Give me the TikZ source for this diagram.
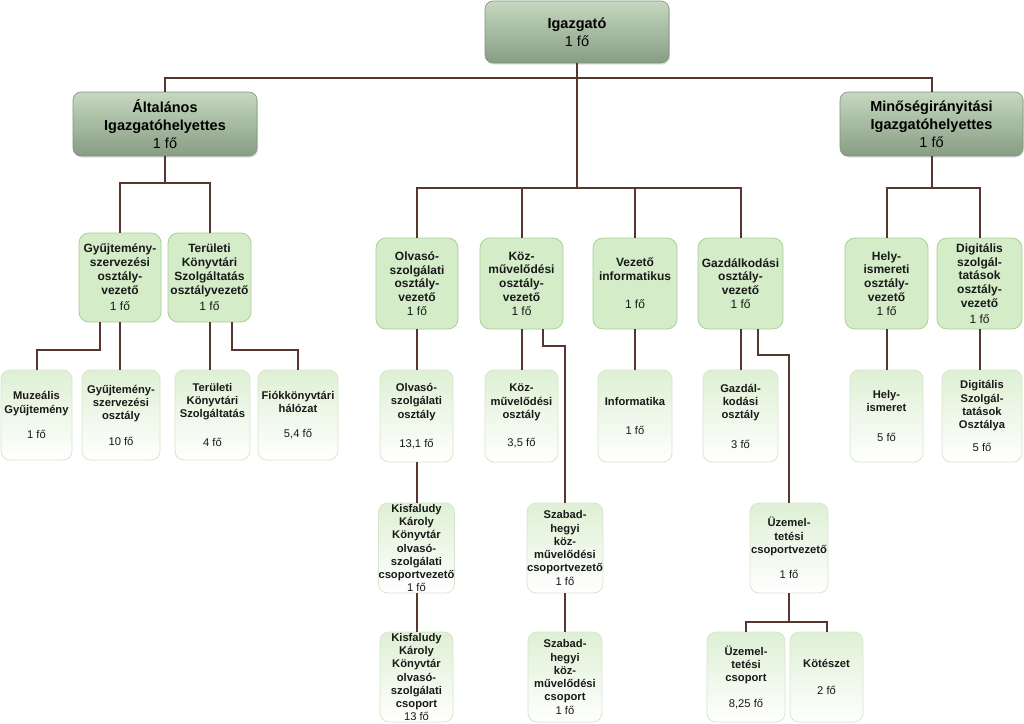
\documentclass[tikz,border=0pt]{standalone}
\usepackage{fontspec}
\setmainfont{Liberation Sans}
\usetikzlibrary{calc,shadows}
\definecolor{linec}{RGB}{88,54,48}
\definecolor{toptop}{RGB}{198,217,192}
\definecolor{topbot}{RGB}{134,156,131}
\definecolor{topdraw}{RGB}{128,146,125}
\definecolor{midfill}{RGB}{212,236,200}
\definecolor{middraw}{RGB}{168,206,150}
\definecolor{leaftop}{RGB}{222,240,212}
\definecolor{leafdraw}{RGB}{214,230,204}
\definecolor{txt}{RGB}{25,25,25}
\newcommand\hcnt[1]{{\mdseries #1}}
\tikzset{
  topbox/.style={rectangle, rounded corners=8pt, draw=topdraw, line width=0.6pt,
    top color=toptop, bottom color=topbot, inner sep=0pt, align=center,
    text=black, font=\fontsize{14.5}{18}\selectfont\bfseries,
    drop shadow={opacity=0.25, shadow xshift=1pt, shadow yshift=-1.5pt}},
  midbox/.style={rectangle, rounded corners=10pt, draw=middraw, line width=0.8pt,
    fill=midfill, inner sep=0pt, align=center, text=txt,
    font=\fontsize{12}{13.8}\selectfont\bfseries},
  leafbox/.style={rectangle, rounded corners=9pt, draw=leafdraw, line width=0.8pt,
    top color=leaftop, bottom color=white, inner sep=0pt, align=center, text=txt,
    font=\fontsize{11.2}{13.3}\selectfont\bfseries},
  conn/.style={draw=linec, line width=2pt}
}
\begin{document}
\begin{tikzpicture}[x=1pt,y=-1pt]
\useasboundingbox (0,0) rectangle (1024,723);
% level 0/1
\node[topbox, minimum width=184pt, minimum height=62pt] (igaz) at (577,32) {Igazgató\\\hcnt{1 fő}};
\node[topbox, minimum width=184pt, minimum height=64pt] (alt) at (165,124) {Általános\\Igazgatóhelyettes\\\hcnt{1 fő}};
\node[topbox, minimum width=183pt, minimum height=64pt] (min) at (931.5,124) {Minőségirányitási\\Igazgatóhelyettes\\\hcnt{1 fő}};
% level 2
\node[midbox, minimum width=82pt, minimum height=89pt] (gyv) at (120,277.5) {Gyűjtemény-\\szervezési\\osztály-\\vezető\\[3pt]\hcnt{1 fő}};
\node[midbox, minimum width=83pt, minimum height=89pt] (ter) at (209.5,277.5) {Területi\\Könyvtári\\Szolgáltatás\\osztályvezető\\[3pt]\hcnt{1 fő}};
\node[midbox, minimum width=82pt, minimum height=91pt] (olv) at (417,283.5) {Olvasó-\\szolgálati\\osztály-\\vezető\\\hcnt{1 fő}};
\node[midbox, minimum width=83pt, minimum height=91pt] (koz) at (521.5,283.5) {Köz-\\művelődési\\osztály-\\vezető\\\hcnt{1 fő}};
\node[midbox, minimum width=84pt, minimum height=91pt] (vez) at (635,283.5) {Vezető\\informatikus\\[14pt]\hcnt{1 fő}};
\node[midbox, minimum width=85pt, minimum height=91pt] (gaz) at (740.5,283.5) {Gazdálkodási\\osztály-\\vezető\\\hcnt{1 fő}};
\node[midbox, minimum width=83pt, minimum height=91pt] (hel) at (886.5,283.5) {Hely-\\ismereti\\osztály-\\vezető\\\hcnt{1 fő}};
\node[midbox, minimum width=85pt, minimum height=91pt] (dig) at (979.5,283.5) {Digitális\\szolgál-\\tatások\\osztály-\\vezető\\[2pt]\hcnt{1 fő}};
% level 3
\node[leafbox, minimum width=71pt, minimum height=90pt] (muz) at (36.5,415) {Muzeális\\Gyűjtemény\\[12pt]\hcnt{1 fő}};
\node[leafbox, minimum width=78pt, minimum height=90pt] (gyo) at (121,415) {Gyűjtemény-\\szervezési\\osztály\\[12pt]\hcnt{10 fő}};
\node[leafbox, minimum width=75pt, minimum height=90pt] (tko) at (212.5,415) {Területi\\Könyvtári\\Szolgáltatás\\[16pt]\hcnt{4 fő}};
\node[leafbox, minimum width=80pt, minimum height=90pt] (fio) at (298,415) {Fiókkönyvtári\\hálózat\\[12pt]\hcnt{5,4 fő}};
\node[leafbox, minimum width=73pt, minimum height=92pt] (olo) at (416.5,416) {Olvasó-\\szolgálati\\osztály\\[16pt]\hcnt{13,1 fő}};
\node[leafbox, minimum width=73pt, minimum height=92pt] (koo) at (521.5,416) {Köz-\\művelődési\\osztály\\[15pt]\hcnt{3,5 fő}};
\node[leafbox, minimum width=74pt, minimum height=92pt] (inf) at (635,416) {Informatika\\[15pt]\hcnt{1 fő}};
\node[leafbox, minimum width=75pt, minimum height=92pt] (gao) at (740.5,416) {Gazdál-\\kodási\\osztály\\[16pt]\hcnt{3 fő}};
\node[leafbox, minimum width=73pt, minimum height=92pt] (hei) at (886.5,416) {Hely-\\ismeret\\[17pt]\hcnt{5 fő}};
\node[leafbox, minimum width=80pt, minimum height=92pt] (dio) at (982,416) {Digitális\\Szolgál-\\tatások\\Osztálya\\[9pt]\hcnt{5 fő}};
% level 4/5
\node[leafbox, minimum width=73pt, minimum height=90pt] (kcv) at (416.5,548) {Kisfaludy\\Károly\\Könyvtár\\olvasó-\\szolgálati\\csoportvezető\\\hcnt{1 fő}};
\node[leafbox, minimum width=73pt, minimum height=90pt] (kcs) at (416.5,677) {Kisfaludy\\Károly\\Könyvtár\\olvasó-\\szolgálati\\csoport\\\hcnt{13 fő}};
\node[leafbox, minimum width=74pt, minimum height=90pt] (scv) at (565,548) {Szabad-\\hegyi\\köz-\\művelődési\\csoportvezető\\\hcnt{1 fő}};
\node[leafbox, minimum width=74pt, minimum height=90pt] (scs) at (565,677) {Szabad-\\hegyi\\köz-\\művelődési\\csoport\\\hcnt{1 fő}};
\node[leafbox, minimum width=78pt, minimum height=90pt] (ucv) at (789,548) {Üzemel-\\tetési\\csoportvezető\\[12pt]\hcnt{1 fő}};
\node[leafbox, minimum width=78pt, minimum height=90pt] (ucs) at (746,677) {Üzemel-\\tetési\\csoport\\[12pt]\hcnt{8,25 fő}};
\node[leafbox, minimum width=73pt, minimum height=90pt] (kot) at (826.5,677) {Kötészet\\[14pt]\hcnt{2 fő}};
% connectors
\draw[conn] (alt.north) -- ++(0,-14) -| (min.north);
\foreach \c in {olv,koz,vez,gaz} \draw[conn] (igaz.south) -- ++(0,125) -| (\c.north);
\foreach \c in {gyv,ter} \draw[conn] (alt.south) -- ++(0,27) -| (\c.north);
\foreach \c in {hel,dig} \draw[conn] (min.south) -- ++(0,32) -| (\c.north);
\draw[conn] ($(gyv.south)+(-20,0)$) -- ++(0,28) -| (muz.north);
\draw[conn] (gyv.south) -- (gyv.south |- gyo.north);
\draw[conn] (ter.south) -- (ter.south |- tko.north);
\draw[conn] ($(ter.south)+(22,0)$) -- ++(0,28) -| (fio.north);
\draw[conn] (olv.south) -- (olv.south |- olo.north);
\draw[conn] (olo.south) -- (olo.south |- kcv.north);
\draw[conn] (kcv.south) -- (kcv.south |- kcs.north);
\draw[conn] (koz.south) -- (koz.south |- koo.north);
\draw[conn] ($(koz.south)+(21.5,0)$) -- ++(0,17) -| (scv.north);
\draw[conn] (scv.south) -- (scv.south |- scs.north);
\draw[conn] (vez.south) -- (vez.south |- inf.north);
\draw[conn] (gaz.south) -- (gaz.south |- gao.north);
\draw[conn] ($(gaz.south)+(17.5,0)$) -- ++(0,26) -| (ucv.north);
\foreach \c in {ucs,kot} \draw[conn] (ucv.south) -- ++(0,29) -| (\c.north);
\draw[conn] (hel.south) -- (hel.south |- hei.north);
\draw[conn] (dig.south) -- (dig.south |- dio.north);
\end{tikzpicture}
\end{document}
